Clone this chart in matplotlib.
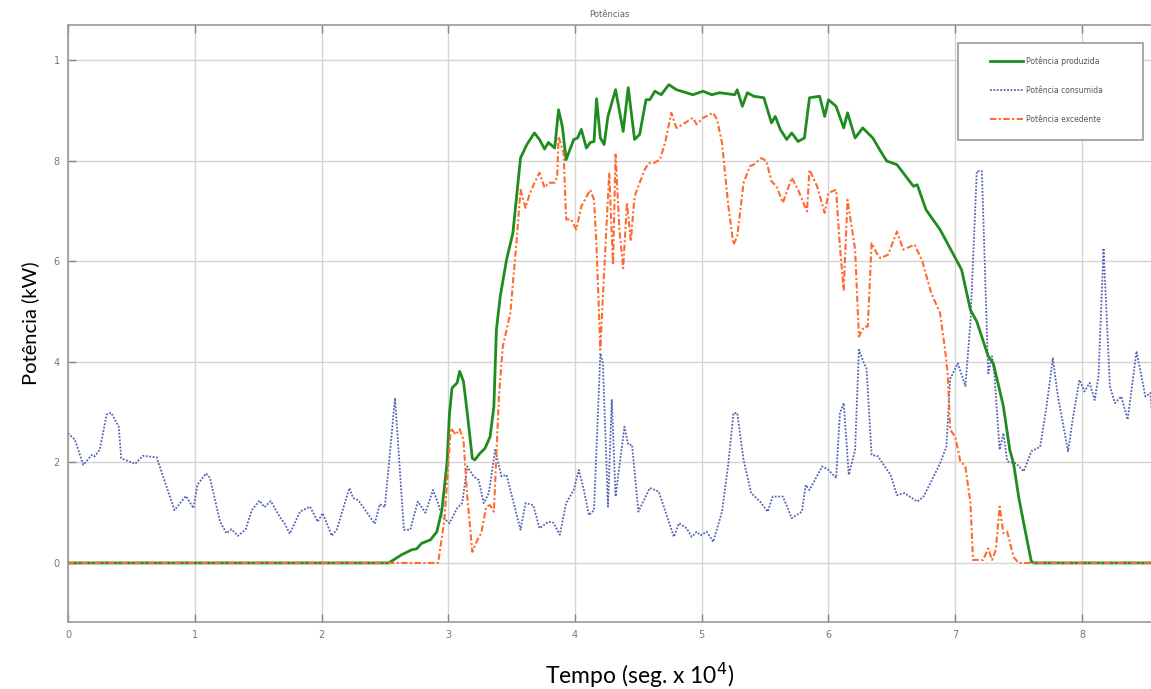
import matplotlib.pyplot as plt
from matplotlib.patches import Rectangle

# time axis in seg x 10^4, power in kW
t_cons = [0.00, 0.055, 0.12, 0.19, 0.21, 0.25, 0.305, 0.34, 0.40, 0.42, 0.53, 0.59, 0.70, 0.75,
          0.84, 0.93, 0.99, 1.02, 1.09, 1.12, 1.20, 1.25, 1.29, 1.34, 1.40, 1.45, 1.51, 1.55,
          1.60, 1.67, 1.71, 1.75, 1.83, 1.91, 1.97, 2.01, 2.08, 2.12, 2.22, 2.25, 2.29, 2.42,
          2.46, 2.50, 2.58, 2.65, 2.70, 2.76, 2.82, 2.88, 2.92, 2.95, 3.01, 3.07, 3.11, 3.15,
          3.20, 3.24, 3.28, 3.32, 3.37, 3.42, 3.46, 3.50, 3.57, 3.61, 3.67, 3.72, 3.79, 3.83,
          3.88, 3.93, 3.99, 4.03, 4.07, 4.11, 4.15, 4.20, 4.22, 4.26, 4.29, 4.32, 4.39, 4.42,
          4.45, 4.50, 4.59, 4.66, 4.71, 4.78, 4.82, 4.88, 4.92, 4.96, 4.99, 5.04, 5.09, 5.16,
          5.21, 5.25, 5.28, 5.33, 5.39, 5.46, 5.52, 5.56, 5.64, 5.71, 5.79, 5.82, 5.85, 5.95,
          6.00, 6.06, 6.09, 6.12, 6.16, 6.21, 6.24, 6.28, 6.30, 6.34, 6.39, 6.49, 6.54, 6.60,
          6.70, 6.75, 6.81, 6.88, 6.93, 6.96, 7.02, 7.08, 7.12, 7.17, 7.21, 7.26, 7.29, 7.31,
          7.35, 7.38, 7.41, 7.48, 7.54, 7.60, 7.67, 7.72, 7.77, 7.81, 7.89, 7.93, 7.98, 8.02,
          8.06, 8.10, 8.13, 8.17, 8.22, 8.26, 8.31, 8.36, 8.43, 8.50, 8.54, 8.56]
p_cons = [2.58, 2.45, 1.95, 2.15, 2.12, 2.25, 2.95, 2.99, 2.71, 2.08, 1.97, 2.13, 2.10, 1.72,
          1.05, 1.33, 1.09, 1.55, 1.78, 1.69, 0.82, 0.59, 0.67, 0.54, 0.66, 1.05, 1.24, 1.11,
          1.23, 0.92, 0.78, 0.58, 1.02, 1.12, 0.82, 0.99, 0.54, 0.66, 1.49, 1.29, 1.25, 0.78,
          1.17, 1.11, 3.28, 0.66, 0.66, 1.22, 1.00, 1.45, 1.19, 0.92, 0.79, 1.09, 1.19, 1.92,
          1.72, 1.65, 1.19, 1.39, 2.25, 1.72, 1.75, 1.35, 0.66, 1.19, 1.15, 0.69, 0.82, 0.80,
          0.56, 1.19, 1.45, 1.85, 1.45, 0.95, 1.05, 4.17, 3.97, 1.12, 3.24, 1.32, 2.71, 2.35,
          2.35, 1.02, 1.49, 1.42, 1.05, 0.52, 0.79, 0.69, 0.52, 0.62, 0.55, 0.62, 0.42, 1.02,
          1.98, 2.98, 2.98, 2.05, 1.39, 1.22, 1.02, 1.32, 1.32, 0.89, 1.02, 1.55, 1.45, 1.92,
          1.85, 1.69, 2.98, 3.18, 1.75, 2.25, 4.24, 3.97, 3.87, 2.15, 2.12, 1.75, 1.35, 1.39,
          1.22, 1.32, 1.62, 1.98, 2.31, 3.66, 3.97, 3.52, 4.80, 7.79, 7.79, 3.77, 4.11, 3.71,
          2.25, 2.58, 2.02, 1.98, 1.82, 2.22, 2.31, 3.11, 4.07, 3.31, 2.22, 2.91, 3.64, 3.41,
          3.58, 3.24, 3.71, 6.26, 3.51, 3.18, 3.31, 2.85, 4.21, 3.31, 3.38, 2.70]

t_prod = [0.00, 2.53, 2.63, 2.71, 2.75, 2.79, 2.86, 2.91, 2.95, 2.99, 3.01, 3.03, 3.07, 3.09,
          3.12, 3.15, 3.19, 3.21, 3.25, 3.29, 3.33, 3.36, 3.38, 3.41, 3.46, 3.51, 3.57, 3.62,
          3.68, 3.72, 3.76, 3.79, 3.84, 3.87, 3.90, 3.93, 3.99, 4.02, 4.05, 4.09, 4.12, 4.15,
          4.17, 4.20, 4.23, 4.26, 4.32, 4.38, 4.42, 4.47, 4.51, 4.56, 4.59, 4.63, 4.68, 4.74,
          4.80, 4.93, 5.01, 5.08, 5.14, 5.26, 5.28, 5.32, 5.36, 5.41, 5.49, 5.55, 5.58, 5.62,
          5.67, 5.71, 5.76, 5.81, 5.85, 5.93, 5.97, 6.00, 6.06, 6.12, 6.15, 6.21, 6.27, 6.35,
          6.41, 6.46, 6.54, 6.67, 6.70, 6.77, 6.88, 6.98, 7.05, 7.12, 7.17, 7.26, 7.30, 7.35,
          7.38, 7.43, 7.46, 7.50, 7.54, 7.60, 7.62, 8.56]
p_prod = [0.00, 0.00, 0.16, 0.26, 0.28, 0.39, 0.46, 0.62, 1.05, 1.98, 2.98, 3.48, 3.58, 3.81,
          3.61, 2.98, 2.08, 2.05, 2.18, 2.28, 2.51, 3.11, 4.64, 5.30, 6.03, 6.56, 8.05, 8.32,
          8.55, 8.42, 8.23, 8.36, 8.25, 9.01, 8.68, 8.02, 8.42, 8.45, 8.62, 8.25, 8.36, 8.38,
          9.23, 8.45, 8.32, 8.88, 9.41, 8.58, 9.45, 8.42, 8.52, 9.21, 9.21, 9.38, 9.31, 9.51,
          9.41, 9.31, 9.38, 9.31, 9.35, 9.31, 9.41, 9.08, 9.35, 9.28, 9.25, 8.75, 8.88, 8.62,
          8.42, 8.55, 8.38, 8.45, 9.25, 9.28, 8.88, 9.21, 9.08, 8.65, 8.95, 8.45, 8.65, 8.45,
          8.19, 7.99, 7.92, 7.49, 7.52, 7.02, 6.63, 6.16, 5.83, 5.03, 4.80, 4.11, 3.97, 3.44,
          3.11, 2.25, 1.98, 1.32, 0.79, 0.03, 0.00, 0.00]

t_exc = [0.00, 2.92, 2.97, 3.02, 3.06, 3.09, 3.12, 3.15, 3.19, 3.23, 3.26, 3.30, 3.33, 3.36,
         3.40, 3.43, 3.49, 3.54, 3.57, 3.61, 3.64, 3.68, 3.72, 3.76, 3.79, 3.84, 3.86, 3.87,
         3.91, 3.93, 3.97, 4.01, 4.05, 4.12, 4.15, 4.17, 4.20, 4.22, 4.27, 4.30, 4.32, 4.35,
         4.38, 4.41, 4.44, 4.47, 4.51, 4.55, 4.58, 4.62, 4.67, 4.71, 4.76, 4.80, 4.85, 4.93,
         4.96, 5.01, 5.09, 5.12, 5.16, 5.21, 5.25, 5.28, 5.33, 5.38, 5.41, 5.47, 5.51, 5.55,
         5.59, 5.64, 5.71, 5.76, 5.83, 5.85, 5.91, 5.97, 6.00, 6.06, 6.09, 6.12, 6.15, 6.21,
         6.24, 6.28, 6.31, 6.34, 6.38, 6.41, 6.47, 6.54, 6.59, 6.68, 6.74, 6.81, 6.88, 6.92,
         6.94, 6.96, 7.00, 7.04, 7.08, 7.12, 7.14, 7.22, 7.26, 7.29, 7.32, 7.35, 7.38, 7.41,
         7.46, 7.50, 8.56]
p_exc = [0.00, 0.00, 0.86, 2.68, 2.55, 2.66, 2.45, 1.32, 0.22, 0.46, 0.59, 1.12, 1.15, 1.02,
         3.31, 4.30, 4.97, 6.43, 7.42, 7.06, 7.32, 7.56, 7.76, 7.46, 7.56, 7.56, 7.69, 8.48,
         8.15, 6.83, 6.83, 6.63, 7.09, 7.42, 7.22, 6.29, 4.24, 5.30, 7.76, 5.93, 8.12, 6.63,
         5.86, 7.16, 6.39, 7.29, 7.56, 7.82, 7.95, 7.95, 8.02, 8.35, 8.95, 8.65, 8.72, 8.85,
         8.72, 8.85, 8.95, 8.82, 8.35, 7.09, 6.33, 6.49, 7.56, 7.89, 7.92, 8.05, 7.99, 7.59,
         7.49, 7.16, 7.66, 7.42, 6.99, 7.82, 7.49, 6.96, 7.36, 7.42, 6.29, 5.43, 7.22, 6.23,
         4.50, 4.70, 4.70, 6.36, 6.16, 6.06, 6.13, 6.59, 6.23, 6.33, 6.00, 5.37, 4.97, 4.24,
         3.77, 2.65, 2.51, 2.02, 1.92, 1.19, 0.06, 0.06, 0.29, 0.06, 0.26, 1.12, 0.59, 0.62,
         0.12, 0.00, 0.00]

x_ticks = [0, 1, 2, 3, 4, 5, 6, 7, 8]
y_ticks = [0, 2, 4, 6, 8, 10]
y_ticklabels = ['0', '2', '4', '6', '8', '1']

fig = plt.figure(figsize=(11.51, 6.89), dpi=100)
ax = fig.add_axes([68 / 1151, 1 - 622 / 689, 1 - 68 / 1151, (622 - 25) / 689])

l1, = ax.plot(t_prod, p_prod, color='#1f8c1f', lw=2.0, label='Potência produzida', zorder=3)
l2, = ax.plot(t_cons, p_cons, color='#5262b4', lw=1.3, ls=(0, (1, 0.9)),
              label='Potência consumida', zorder=2)
l3, = ax.plot(t_exc, p_exc, color='#ff6a30', lw=1.5, ls=(0, (3, 1.2, 1, 1.2)),
              label='Potência excedente', zorder=4)

ax.set_xlim(0, (1151 - 68) / 126.75)
ax.set_ylim(-(622 - 563) / 50.25, 10 + (60 - 25) / 50.25)
ax.set_xticks(x_ticks)
ax.set_yticks(y_ticks)
ax.set_yticklabels(y_ticklabels)
ax.grid(True, color='#d4d4d4', lw=1.0)
ax.set_axisbelow(True)
ax.tick_params(direction='in', length=6, width=1, colors='#888888', labelcolor='#777777',
               labelsize=7, top=True, right=False, pad=6)
for side in ['left', 'bottom', 'top']:
    ax.spines[side].set_color('#999999')
    ax.spines[side].set_linewidth(1.2)
ax.spines['right'].set_visible(False)

ax.set_title('Potências', fontsize=6, color='#666666', pad=6)
fig.text(30 / 1151, 1 - 323 / 689, 'Potência (kW)', rotation=90, ha='center', va='center',
         fontsize=14.5, family='Lato')
fig.text(640 / 1151, 1 - 675 / 689, 'Tempo (seg. x 10$^4$)', ha='center', va='center',
         fontsize=16.5, family='Lato')

# legend frame drawn as its own box, legend entries placed inside it
frame = Rectangle((958 / 1151, 1 - 140 / 689), 185 / 1151, 97 / 689,
                  transform=fig.transFigure, facecolor='white', edgecolor='#999999',
                  lw=1.2, zorder=5, clip_on=False)
ax.add_patch(frame)
leg = ax.legend(handles=[l1, l2, l3], loc='upper left',
                bbox_to_anchor=(990 / 1151, 1 - 56 / 689), bbox_transform=fig.transFigure,
                frameon=False, fontsize=5.5, handlelength=4.3, handletextpad=0.4,
                labelspacing=2.65, borderpad=0, borderaxespad=0)
leg.set_zorder(6)
for txt in leg.get_texts():
    txt.set_color('#555555')

fig.savefig('out.png', dpi=100)
